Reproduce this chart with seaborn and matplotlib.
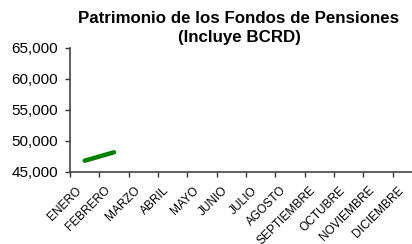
import matplotlib
matplotlib.use("Agg")
import matplotlib.pyplot as plt
import matplotlib.transforms as mtransforms
import seaborn as sns
import numpy as np

months = ["ENERO", "FEBRERO", "MARZO", "ABRIL", "MAYO", "JUNIO", "JULIO",
          "AGOSTO", "SEPTIEMBRE", "OCTUBRE", "NOVIEMBRE", "DICIEMBRE"]
patrimonio = [46820, 48180] + [np.nan] * 10
yticks = [45000, 50000, 55000, 60000, 65000]

sns.set_style("white")
plt.rcParams['font.family'] = ['Liberation Sans', 'DejaVu Sans']
plt.rcParams['text.color'] = 'black'
plt.rcParams['xtick.color'] = 'black'
plt.rcParams['ytick.color'] = 'black'

fig = plt.figure(figsize=(4.12, 2.44), dpi=100)
# axes runs past the right edge, like the cropped original
ax = fig.add_axes([70 / 412, (244 - 172) / 244, 352 / 412, 124 / 244])

pos = np.arange(len(months))
sns.lineplot(x=pos, y=patrimonio, color="#008000", linewidth=3.2, ax=ax,
             solid_capstyle="round")

ax.set_ylim(45000, 65000)
ax.set_yticks(yticks)
ax.set_yticklabels([f"{v:,}" for v in yticks], fontsize=11)
ax.set_xlim(-0.5, len(months) - 0.5)
ax.set_xticks(np.arange(len(months) + 1) - 0.5)
ax.set_xticklabels([])
ax.set_xticks(pos, minor=True)
ax.set_xticklabels(months, minor=True, rotation=45, ha="right",
                   rotation_mode="anchor", fontsize=8.6)
ax.tick_params(axis="x", which="minor", length=0, pad=9)
ax.tick_params(axis="x", which="major", length=3.6, width=1, color="#333333",
               direction="out", bottom=True)
ax.tick_params(axis="y", length=3.6, width=1, color="#333333", direction="out",
               left=True, pad=5)
shift = mtransforms.ScaledTranslation(-7 / 72, 0, fig.dpi_scale_trans)
for lab in ax.get_xticklabels(minor=True):
    lab.set_transform(lab.get_transform() + shift)

sns.despine(ax=ax)
for s in ["left", "bottom"]:
    ax.spines[s].set_color("#444444")
    ax.spines[s].set_linewidth(1.2)

fig.text(239 / 412, 1 - 28 / 244, "Patrimonio de los Fondos de Pensiones\n(Incluye BCRD)",
         ha="center", va="center", fontsize=12.2, fontweight="bold",
         linespacing=1.4)

fig.savefig("out.png", dpi=100)
